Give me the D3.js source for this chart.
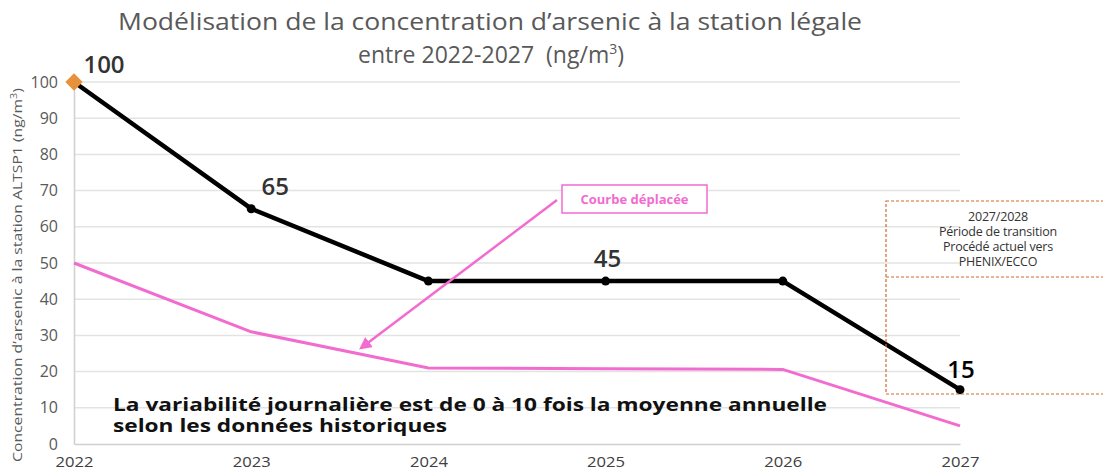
<!DOCTYPE html>
<html>
<head>
<meta charset="utf-8">
<script src="https://cdn.jsdelivr.net/npm/d3@7"></script>
<style>
  body { margin: 0; background: #fff; }
  svg { display: block; font-family: "Open Sans", sans-serif; }
</style>
</head>
<body>
<svg id="chart" width="1103" height="474"></svg>
<script>
// data
const years = [2022, 2023, 2024, 2025, 2026, 2027];
const modelled = [100, 65, 45, 45, 45, 15];
const shifted = [50, 31, 21, 20.8, 20.6, 5];
const yTicks = [0, 10, 20, 30, 40, 50, 60, 70, 80, 90, 100];
const pointLabels = [
  { year: 2022, value: 100, text: "100" },
  { year: 2023, value: 65, text: "65" },
  { year: 2025, value: 45, text: "45" },
  { year: 2027, value: 15, text: "15" }
];

const svg = d3.select("#chart");

const x = d3.scaleLinear().domain([2022, 2027]).range([74, 960]);
const y = d3.scaleLinear().domain([0, 100]).range([444, 82]);

// grid
svg.append("g")
  .selectAll("line")
  .data(yTicks.filter((d) => d > 0))
  .enter()
  .append("line")
  .attr("x1", x(2022))
  .attr("x2", x(2027))
  .attr("y1", (d) => y(d))
  .attr("y2", (d) => y(d))
  .attr("stroke", "#e3e3e3")
  .attr("stroke-width", 1.5);

// y axis
const yAxis = svg.append("g")
  .attr("transform", `translate(${x(2022)},0)`)
  .call(d3.axisLeft(y).tickValues(yTicks).tickSize(0).tickPadding(16));
yAxis.select(".domain").attr("stroke", "#d0d0d0").attr("stroke-width", 1.5);
yAxis.selectAll("text")
  .attr("font-size", 16)
  .attr("fill", "#595959")
  .attr("font-family", "Open Sans, sans-serif");

// x axis
const xAxis = svg.append("g")
  .attr("transform", `translate(0,${y(0)})`)
  .call(d3.axisBottom(x).tickValues(years).tickFormat(d3.format("d")).tickSize(0).tickPadding(12));
xAxis.select(".domain").attr("stroke", "#d0d0d0").attr("stroke-width", 1.5);
xAxis.selectAll("text")
  .attr("font-size", 15)
  .attr("fill", "#404040")
  .attr("font-family", "Open Sans, sans-serif")
  .attr("textLength", 38)
  .attr("lengthAdjust", "spacingAndGlyphs");

const line = d3.line()
  .x((d, i) => x(years[i]))
  .y((d) => y(d));

// shifted curve
svg.append("path")
  .datum(shifted)
  .attr("fill", "none")
  .attr("stroke", "#f26bcf")
  .attr("stroke-width", 3)
  .attr("d", line);

// modelled curve
svg.append("path")
  .datum(modelled)
  .attr("fill", "none")
  .attr("stroke", "#000")
  .attr("stroke-width", 4.5)
  .attr("stroke-linejoin", "round")
  .attr("d", line);

svg.append("g")
  .selectAll("circle")
  .data(modelled.slice(1))
  .enter()
  .append("circle")
  .attr("cx", (d, i) => x(years[i + 1]))
  .attr("cy", (d) => y(d))
  .attr("r", 4.5)
  .attr("fill", "#000");

svg.append("path")
  .attr("d", d3.symbol(d3.symbolSquare, 150)())
  .attr("transform", `translate(${x(years[0])},${y(modelled[0])}) rotate(45)`)
  .attr("fill", "#e8913c");

// value labels
const labelOffsets = { 2022: [30, -9], 2023: [24, -14], 2025: [2, -14], 2027: [1, -12] };
svg.append("g")
  .selectAll("text")
  .data(pointLabels)
  .enter()
  .append("text")
  .attr("x", (d) => x(d.year) + labelOffsets[d.year][0])
  .attr("y", (d) => y(d.value) + labelOffsets[d.year][1])
  .attr("text-anchor", "middle")
  .attr("font-size", 24)
  .attr("font-weight", 600)
  .attr("fill", (d) => (d.year === 2027 ? "#000" : "#333"))
  .text((d) => d.text);

// title
const title = svg.append("g").attr("fill", "#595959").attr("font-size", 23).attr("text-anchor", "middle");
title.append("text").attr("x", 490).attr("y", 30)
  .attr("textLength", 744).attr("lengthAdjust", "spacingAndGlyphs")
  .text("Modélisation de la concentration d’arsenic à la station légale");
const t2 = title.append("text").attr("x", 491).attr("y", 63);
t2.append("tspan").text("entre 2022-2027\u00a0\u00a0(ng/m");
t2.append("tspan").attr("font-size", 14).attr("dy", -9).text("3");
t2.append("tspan").attr("dy", 9).text(")");

// y axis label
const yl = svg.append("text")
  .attr("transform", "translate(22,275) rotate(-90)")
  .attr("text-anchor", "middle")
  .attr("font-size", 13)
  .attr("fill", "#595959")
  .attr("textLength", 374)
  .attr("lengthAdjust", "spacingAndGlyphs");
yl.append("tspan").text("Concentration d’arsenic à la station ALTSP1 (ng/m");
yl.append("tspan").attr("font-size", 9).attr("dy", -5).text("3");
yl.append("tspan").attr("dy", 5).text(")");

// annotation: shifted curve
svg.append("defs").append("marker")
  .attr("id", "arrow")
  .attr("viewBox", "0 0 10 10")
  .attr("refX", 8).attr("refY", 5)
  .attr("markerWidth", 5).attr("markerHeight", 5)
  .attr("orient", "auto")
  .append("path").attr("d", "M0,0 L10,5 L0,10 z").attr("fill", "#f26bcf");

svg.append("line")
  .attr("x1", 557).attr("y1", 200)
  .attr("x2", x(2023.62)).attr("y2", y(26.5))
  .attr("stroke", "#f26bcf")
  .attr("stroke-width", 2.5)
  .attr("marker-end", "url(#arrow)");

svg.append("rect")
  .attr("x", 562).attr("y", 185).attr("width", 145).attr("height", 28)
  .attr("fill", "#fff")
  .attr("stroke", "#f26bcf")
  .attr("stroke-width", 1.5);
svg.append("text")
  .attr("x", 634.5).attr("y", 204)
  .attr("text-anchor", "middle")
  .attr("font-size", 13)
  .attr("font-weight", 700)
  .attr("fill", "#f26bcf")
  .text("Courbe déplacée");

// transition box
const box = svg.append("g").attr("stroke", "#d46a2a").attr("stroke-width", 1.2).attr("stroke-dasharray", "3,2").attr("fill", "none");
box.append("rect").attr("x", 886).attr("y", 201).attr("width", 230).attr("height", 193);
box.append("line").attr("x1", 886).attr("x2", 1103).attr("y1", 277).attr("y2", 277);

const boxLines = ["2027/2028", "Période de transition", "Procédé actuel vers", "PHENIX/ECCO"];
svg.append("g")
  .selectAll("text")
  .data(boxLines)
  .enter()
  .append("text")
  .attr("x", 998)
  .attr("y", (d, i) => 221 + i * 15)
  .attr("text-anchor", "middle")
  .attr("font-size", 12.5)
  .attr("fill", "#333")
  .attr("letter-spacing", -0.2)
  .text((d) => d);

// variability note (one text block, two lines)
const note = svg.append("text")
  .attr("font-size", 18)
  .attr("font-weight", 700)
  .attr("fill", "#111");
note.append("tspan").attr("x", 113).attr("y", 411)
  .attr("textLength", 714).attr("lengthAdjust", "spacingAndGlyphs")
  .text("La variabilité journalière est de 0 à 10 fois la moyenne annuelle");
note.append("tspan").attr("x", 113).attr("y", 432)
  .attr("textLength", 334).attr("lengthAdjust", "spacingAndGlyphs")
  .text("selon les données historiques");
</script>
</body>
</html>
